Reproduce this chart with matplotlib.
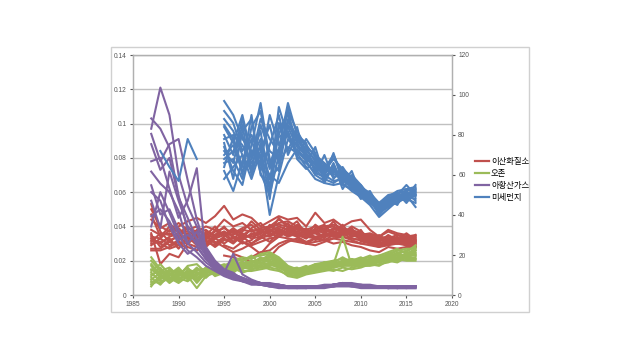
import numpy as np
import matplotlib
matplotlib.use('Agg')
import matplotlib.pyplot as plt
from matplotlib.patches import Rectangle
from matplotlib.lines import Line2D

plt.rcParams['font.family'] = ['Liberation Sans', 'Noto Sans CJK KR', 'DejaVu Sans']

nan = np.nan

# 연도
years = list(range(1987, 2017))
pm10_years = list(range(1995, 2017))
pm10_early_years = [1988, 1989, 1990, 1991, 1992]

# 이산화질소 (ppb, 왼쪽 축은 ppm)
no2_lines = [
    [50, 40, 37, 40, 43, 45, 42, 46, 52, 44, 47, 45, 40, 43, 46, 44, 45, 40, 48, 42, 44, 40, 43, 44, 38, 34, 38, 36, 35, 33],
    [53, 37, 31, 35, 33, 36, 38, 34, 36, 35, 38, 37, 39, 40, 41, 40, 38, 37, 38, 36, 39, 38, 36, 35, 34, 33, 32, 33, 31, 32],
    [33, 30, 34, 36, 37, 35, 31, 29, 33, 30, 35, 34, 36, 38, 36, 39, 37, 36, 34, 35, 37, 36, 35, 33, 31, 30, 31, 30, 32, 34],
    [27, 27, 31, 29, 33, 32, 28, 33, 30, 34, 32, 36, 35, 34, 37, 35, 35, 34, 33, 36, 35, 34, 33, 32, 30, 29, 30, 31, 30, 29],
    [36, 18, 24, 22, 30, 28, 34, 30, 34, 38, 33, 35, 37, 36, 34, 38, 36, 35, 36, 38, 37, 35, 36, 34, 32, 31, 30, 32, 33, 31],
    [47, 34, 40, 37, 35, 31, 36, 33, 35, 31, 36, 33, 34, 37, 40, 38, 36, 35, 33, 35, 34, 35, 36, 35, 33, 32, 33, 35, 34, 33],
    [26, 26, 28, 31, 30, 34, 35, 31, 28, 25, 27, 30, 33, 35, 38, 36, 34, 31, 33, 32, 30, 31, 29, 28, 26, 25, 28, 27, 28, 28],
    [32, 30, 27, 29, 28, 26, 30, 35, 37, 34, 30, 32, 38, 39, 42, 43, 40, 38, 37, 39, 40, 37, 38, 36, 35, 34, 33, 32, 34, 35],
    [nan, nan, nan, nan, nan, nan, nan, nan, 23, 22, 20, 22, 25, 26, 30, 32, 31, 30, 33, 32, 35, 36, 33, 32, 30, 28, 31, 30, 30, 29],
    [nan, nan, nan, nan, nan, nan, nan, nan, nan, 24, 22, 19, 21, 22, 28, 31, 33, 30, 29, 31, 33, 34, 32, 30, 31, 29, 30, 32, 31, 31],
    [34, 33, 38, 42, 38, 40, 33, 37, 39, 36, 39, 41, 36, 38, 35, 37, 39, 38, 40, 37, 38, 39, 37, 36, 34, 33, 34, 33, 32, 32],
    [30, 31, 33, 27, 34, 30, 32, 28, 32, 33, 31, 29, 31, 33, 34, 33, 32, 30, 31, 32, 33, 32, 31, 30, 29, 28, 29, 30, 29, 30],
    [35, 28, 32, 34, 39, 37, 40, 38, 44, 40, 42, 38, 37, 40, 44, 41, 39, 36, 38, 40, 41, 39, 37, 35, 36, 34, 37, 35, 33, 34],
    [38, 35, 36, 33, 31, 38, 35, 40, 34, 37, 33, 39, 42, 36, 45, 39, 43, 35, 41, 37, 43, 36, 40, 37, 33, 31, 35, 32, 36, 32],
    [29, 33, 29, 32, 36, 33, 29, 34, 37, 31, 34, 30, 34, 31, 36, 42, 34, 39, 32, 34, 36, 41, 34, 38, 30, 34, 29, 33, 31, 35],
    [31, 36, 35, 39, 34, 29, 37, 35, 40, 33, 37, 43, 38, 35, 39, 35, 41, 37, 36, 33, 39, 37, 39, 31, 35, 30, 32, 34, 30, 31],
    [44, 39, 42, 36, 40, 34, 32, 38, 35, 39, 35, 38, 33, 41, 37, 34, 36, 33, 39, 41, 35, 38, 34, 36, 32, 35, 31, 30, 33, 30],
    [nan, nan, nan, nan, nan, nan, nan, nan, 29, 27, 31, 28, 24, 30, 34, 37, 35, 33, 37, 34, 36, 35, 38, 34, 32, 30, 32, 31, 29, 28],
]

# 오존 (ppb)
o3_lines = [
    [22, 15, 12, 9, 14, 11, 16, 14, 17, 20, 22, 21, 24, 25, 22, 17, 15, 16, 18, 19, 18, 20, 21, 20, 21, 22, 24, 26, 25, 29],
    [9, 13, 11, 15, 12, 8, 14, 15, 13, 18, 19, 17, 20, 22, 20, 15, 14, 15, 17, 18, 17, 19, 18, 19, 20, 21, 23, 24, 23, 26],
    [5, 12, 7, 11, 17, 18, 13, 16, 18, 16, 15, 18, 17, 19, 17, 13, 12, 14, 15, 17, 18, 17, 19, 18, 19, 20, 21, 22, 24, 23],
    [17, 10, 14, 13, 9, 13, 12, 17, 15, 19, 17, 16, 19, 18, 16, 14, 13, 15, 16, 16, 18, 34, 17, 18, 19, 20, 22, 20, 23, 25],
    [13, 8, 10, 7, 11, 4, 11, 13, 16, 14, 18, 20, 18, 21, 19, 12, 11, 13, 14, 15, 16, 17, 17, 18, 18, 19, 20, 21, 22, 22],
    [11, 16, 9, 13, 10, 15, 15, 12, 14, 17, 16, 15, 16, 17, 18, 16, 14, 13, 15, 17, 19, 18, 20, 19, 20, 21, 22, 23, 22, 24],
    [6, 9, 13, 10, 8, 12, 14, 14, 15, 21, 20, 22, 23, 24, 21, 16, 15, 16, 17, 19, 20, 21, 20, 21, 22, 23, 25, 27, 24, 27],
    [15, 11, 8, 12, 16, 10, 13, 15, 12, 15, 14, 14, 15, 16, 15, 11, 10, 12, 13, 14, 15, 14, 16, 17, 17, 18, 19, 21, 20, 20],
    [20, 14, 16, 11, 13, 9, 12, 16, 14, 13, 17, 19, 21, 20, 18, 14, 13, 14, 16, 17, 17, 18, 19, 17, 18, 20, 21, 22, 21, 21],
    [8, 7, 10, 9, 12, 14, 15, 13, 16, 17, 18, 17, 16, 18, 16, 13, 14, 15, 16, 18, 19, 19, 18, 19, 21, 22, 23, 24, 26, 28],
    [14, 18, 12, 16, 10, 12, 16, 11, 13, 19, 21, 18, 22, 19, 17, 13, 15, 17, 14, 18, 20, 17, 20, 22, 19, 23, 21, 25, 22, 24],
    [10, 6, 12, 8, 14, 7, 13, 16, 15, 14, 20, 23, 18, 23, 20, 14, 12, 16, 17, 15, 17, 20, 18, 20, 20, 19, 22, 20, 25, 23],
    [18, 12, 9, 14, 11, 16, 11, 14, 16, 18, 16, 20, 19, 17, 19, 15, 16, 13, 16, 19, 16, 18, 21, 18, 21, 21, 24, 23, 21, 26],
    [7, 10, 15, 12, 13, 9, 15, 12, 14, 16, 13, 15, 17, 15, 14, 12, 11, 13, 14, 15, 14, 16, 15, 16, 18, 17, 20, 19, 22, 21],
    [12, 14, 10, 8, 15, 13, 10, 15, 17, 15, 19, 16, 20, 24, 18, 16, 13, 15, 18, 16, 19, 22, 19, 21, 23, 20, 23, 26, 27, 27],
]

# 아황산가스 (ppb)
so2_lines = [
    [103, 97, 86, 58, 38, 29, 21, 16, 13, 11, 8, 7, 6, 6, 6, 5, 5, 5, 5, 5, 6, 7, 6, 6, 5, 5, 5, 5, 5, 5],
    [97, 121, 105, 70, 52, 40, 26, 18, 14, 12, 10, 8, 7, 6, 5, 5, 5, 5, 5, 5, 6, 6, 6, 5, 5, 5, 5, 4, 5, 5],
    [94, 78, 88, 91, 67, 44, 28, 20, 15, 13, 9, 7, 6, 5, 5, 5, 4, 5, 5, 5, 6, 7, 6, 5, 5, 5, 5, 5, 4, 4],
    [78, 80, 62, 45, 55, 74, 22, 15, 12, 10, 8, 6, 6, 5, 5, 4, 4, 4, 5, 5, 5, 6, 5, 5, 5, 5, 4, 4, 5, 5],
    [64, 47, 50, 38, 30, 37, 24, 17, 13, 24, 12, 9, 7, 6, 5, 5, 5, 5, 5, 5, 6, 6, 6, 6, 5, 5, 5, 5, 5, 5],
    [55, 39, 72, 55, 40, 33, 27, 19, 14, 12, 10, 8, 6, 6, 6, 5, 5, 5, 5, 6, 6, 7, 6, 5, 5, 5, 4, 5, 5, 5],
    [72, 65, 60, 49, 30, 25, 19, 15, 12, 10, 9, 8, 7, 6, 5, 5, 5, 4, 5, 5, 5, 6, 5, 5, 5, 5, 5, 4, 4, 5],
    [40, 60, 48, 35, 26, 22, 17, 14, 11, 9, 8, 7, 6, 5, 4, 4, 4, 4, 4, 4, 5, 5, 5, 4, 4, 4, 4, 4, 4, 4],
    [88, 73, 80, 57, 45, 32, 25, 18, 13, 11, 9, 7, 6, 6, 6, 5, 5, 5, 5, 5, 6, 6, 6, 5, 5, 5, 5, 5, 5, 5],
    [60, 55, 40, 30, 24, 28, 21, 16, 13, 11, 9, 8, 7, 7, 6, 5, 5, 5, 5, 5, 6, 7, 7, 6, 6, 5, 5, 5, 5, 5],
    [46, 50, 43, 32, 35, 31, 23, 17, 14, 12, 10, 8, 7, 6, 5, 5, 5, 5, 5, 5, 5, 6, 6, 5, 5, 5, 4, 5, 5, 5],
]

# 미세먼지 (오른쪽 축)
pm10_lines = [
    [97, 90, 78, 72, 65, 58, 73, 96, 80, 70, 62, 65, 60, 62, 55, 52, 48, 42, 46, 49, 50, 50],
    [88, 82, 70, 62, 85, 72, 68, 85, 78, 73, 67, 63, 70, 60, 58, 55, 49, 44, 47, 50, 48, 53],
    [85, 78, 64, 90, 60, 55, 94, 79, 75, 71, 65, 61, 64, 58, 56, 52, 47, 45, 48, 51, 52, 47],
    [80, 70, 88, 68, 78, 63, 80, 92, 82, 74, 70, 66, 62, 61, 57, 53, 50, 43, 45, 48, 49, 55],
    [74, 62, 55, 75, 96, 68, 62, 88, 76, 69, 63, 58, 56, 59, 54, 50, 47, 41, 44, 47, 51, 49],
    [68, 72, 80, 64, 70, 40, 60, 78, 72, 67, 60, 57, 66, 55, 53, 51, 46, 42, 46, 50, 47, 51],
    [66, 68, 58, 72, 66, 90, 75, 84, 74, 70, 66, 62, 68, 63, 59, 54, 50, 45, 49, 52, 53, 54],
    [62, 52, 67, 78, 61, 50, 70, 81, 69, 66, 61, 59, 63, 57, 55, 51, 48, 40, 45, 46, 49, 48],
    [58, 64, 70, 58, 72, 85, 66, 74, 71, 64, 58, 56, 55, 56, 52, 49, 45, 39, 43, 47, 48, 46],
    [78, 80, 75, 66, 74, 48, 83, 90, 77, 72, 68, 64, 59, 60, 56, 52, 49, 44, 46, 49, 50, 52],
    [92, 86, 72, 80, 68, 60, 56, 66, 73, 68, 64, 60, 57, 58, 53, 50, 46, 43, 47, 50, 51, 50],
    [70, 75, 62, 68, 88, 78, 71, 87, 79, 75, 69, 65, 61, 62, 58, 54, 51, 46, 50, 51, 52, 53],
    [84, 76, 90, 70, 82, 52, 86, 72, 84, 66, 74, 59, 71, 56, 62, 50, 52, 44, 48, 45, 53, 51],
    [76, 58, 82, 88, 62, 75, 90, 70, 80, 76, 60, 70, 58, 64, 57, 53, 47, 42, 44, 51, 46, 52],
    [64, 79, 60, 84, 92, 65, 79, 82, 70, 78, 71, 56, 65, 53, 60, 55, 49, 46, 49, 48, 50, 44],
    [72, 66, 85, 60, 76, 58, 64, 94, 68, 63, 67, 62, 70, 59, 55, 48, 51, 40, 46, 50, 55, 50],
]
pm10_early = [72, 64, 57, 78, 68]

labels = ['이산화질소', '오존', '아황산가스', '미세먼지']
colors = ['#C0504D', '#9BBB59', '#8064A2', '#4F81BD']

W, H = 640, 360
fig = plt.figure(figsize=(6.4, 3.6), dpi=100)
fig.patch.set_facecolor('white')

# 차트 영역 테두리
fig.patches.append(Rectangle((111 / W, 1 - 312 / H), (529 - 111) / W, (312 - 47) / H,
                             transform=fig.transFigure, fill=False,
                             edgecolor='#d0d0d0', linewidth=1.0))

ax = fig.add_axes([133 / W, 1 - 295 / H, (452 - 133) / W, (295 - 55) / H])
ax2 = ax.twinx()

lw = 1.5
for vals in no2_lines:
    ax.plot(years, np.array(vals) / 1000, color=colors[0], lw=lw)
for vals in o3_lines:
    ax.plot(years, np.array(vals) / 1000, color=colors[1], lw=lw)
for vals in so2_lines:
    ax.plot(years, np.array(vals) / 1000, color=colors[2], lw=lw)
for vals in pm10_lines:
    ax2.plot(pm10_years, vals, color=colors[3], lw=lw)
ax2.plot(pm10_early_years, pm10_early, color=colors[3], lw=lw)

ax.set_xlim(1985, 2020)
ax.set_ylim(0, 0.14)
ax2.set_ylim(0, 120)
ax.set_xticks(range(1985, 2021, 5))
ax.set_yticks(np.arange(0, 0.141, 0.02))
ax.set_yticklabels(['0', '0.02', '0.04', '0.06', '0.08', '0.1', '0.12', '0.14'])
ax2.set_yticks(range(0, 121, 20))

ax.grid(axis='y', color='#c0c0c0', lw=1.0)
ax.set_axisbelow(True)
for a in (ax, ax2):
    for s in a.spines.values():
        s.set_color('#b0b0b0')
        s.set_linewidth(0.9)
    a.tick_params(labelsize=4.8, colors='#555555', length=2.5, width=0.8, pad=2)

handles = [Line2D([0], [0], color=c, lw=1.6) for c in colors]
fig.legend(handles, labels, loc='center left', bbox_to_anchor=(471 / W, 1 - 180 / H),
           frameon=False, fontsize=6, handlelength=1.7, handletextpad=0.2,
           labelspacing=0.45, borderpad=0)

fig.savefig('out.png', dpi=100, facecolor='white')
